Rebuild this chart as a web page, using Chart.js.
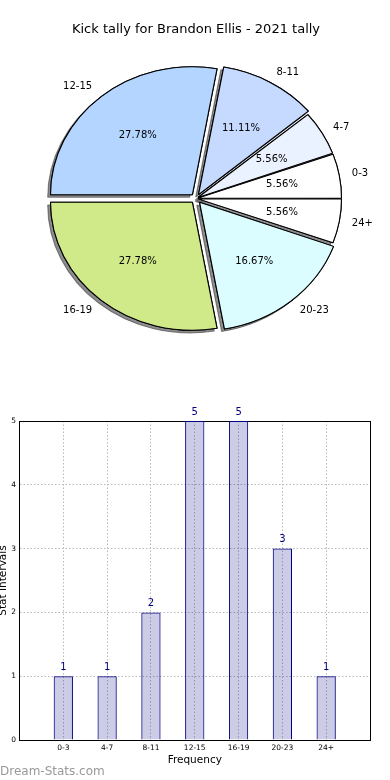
<!DOCTYPE html>
<html>
<head>
<meta charset="utf-8">
<script src="https://cdn.jsdelivr.net/npm/chart.js@4.4.1/dist/chart.umd.min.js"></script>
<style>
  html, body { margin: 0; padding: 0; background: #fff; }
  #wrap { position: relative; width: 390px; height: 780px; overflow: hidden; }
  canvas { position: absolute; left: 0; }
  #pie { top: 0; }
  #bars { top: 380px; }
</style>
</head>
<body>
<div id="wrap">
  <canvas id="pie" width="390" height="380"></canvas>
  <canvas id="bars" width="390" height="400"></canvas>
</div>
<script>
const chartTitle = 'Kick tally for Brandon Ellis - 2021 tally';
const intervals = ['0-3', '4-7', '8-11', '12-15', '16-19', '20-23', '24+'];
const kicks = [1, 1, 2, 5, 5, 3, 1];
const sliceColors = ['#ffffff', '#eaf1ff', '#c6d9ff', '#b3d5ff', '#d0ea8a', '#dbfdff', '#ffffff'];
const explode = [2, 2, 4.5, 5, 5, 5, 2];   // px each wedge is pulled out
const xTitle = 'Frequency';
const yTitle = 'Stat Intervals';
const watermark = 'Dream-Stats.com';

Chart.defaults.font.family = "'DejaVu Sans', sans-serif";
Chart.defaults.color = '#000';
Chart.defaults.animation = false;

// the original pie is a bit wider than tall
const SX = 1.109;

// chart.js goes clockwise, matplotlib counter-clockwise -> feed it reversed
const order = intervals.map((_, i) => intervals.length - 1 - i);

const pieLook = {
  id: 'pieLook',
  beforeDatasetDraw(chart, args) {
    const ctx = chart.ctx;
    const arcs = args.meta.data;
    const cx = arcs[0].x;
    ctx.save();
    ctx.translate(cx, 0);
    ctx.scale(SX, 1);
    ctx.translate(-cx, 0);
    // shadow pass, everything gets covered again except the shadow
    ctx.save();
    ctx.shadowColor = 'rgba(50,50,50,0.55)';
    ctx.shadowOffsetX = -2.8;
    ctx.shadowOffsetY = 2.6;
    arcs.forEach(a => a.draw(ctx));
    ctx.restore();
  },
  afterDatasetDraw(chart) {
    chart.ctx.restore();
  },
  afterDatasetsDraw(chart) {
    const ctx = chart.ctx;
    const meta = chart.getDatasetMeta(0);
    const vals = chart.data.datasets[0].data;
    const total = vals.reduce((s, v) => s + v, 0);
    ctx.save();
    ctx.font = "10px 'DejaVu Sans'";
    ctx.fillStyle = '#000';
    ctx.textBaseline = 'middle';
    meta.data.forEach((arc, i) => {
      const mid = (arc.startAngle + arc.endAngle) / 2;
      const d = (arc.options.offset || 0) / 4;
      const c = Math.cos(mid), s = Math.sin(mid);
      const at = k => [arc.x + SX * (d + k * arc.outerRadius) * c,
                       arc.y + (d + k * arc.outerRadius) * s];
      let p = at(1.1);
      ctx.textAlign = c >= 0 ? 'left' : 'right';
      ctx.fillText(chart.data.labels[i], p[0], p[1]);
      p = at(0.6);
      ctx.textAlign = 'center';
      ctx.fillText((vals[i] / total * 100).toFixed(2) + '%', p[0], p[1]);
    });
    ctx.restore();
  }
};

new Chart(document.getElementById('pie'), {
  type: 'pie',
  data: {
    labels: order.map(i => intervals[i]),
    datasets: [{
      data: order.map(i => kicks[i]),
      backgroundColor: order.map(i => sliceColors[i]),
      offset: order.map(i => explode[i] * 4),
      borderColor: '#000',
      borderWidth: 1,
      clip: false
    }]
  },
  options: {
    responsive: false,
    devicePixelRatio: 1,
    rotation: 90,
    radius: 127.9,
    layout: { padding: { left: 2, right: 0, top: 0, bottom: 30.8 } },
    plugins: {
      legend: { display: false },
      tooltip: { enabled: false },
      title: {
        display: true,
        text: chartTitle,
        color: '#000',
        font: { size: 13, weight: 'normal' },
        padding: { top: 22.2, bottom: 10 }
      }
    }
  },
  plugins: [pieLook]
});

const barExtras = {
  id: 'barExtras',
  afterDatasetsDraw(chart) {
    const ctx = chart.ctx;
    const meta = chart.getDatasetMeta(0);
    ctx.save();
    ctx.font = "10px 'DejaVu Sans'";
    ctx.fillStyle = '#000080';
    ctx.textAlign = 'center';
    ctx.textBaseline = 'middle';
    meta.data.forEach((bar, i) => {
      ctx.fillText(String(kicks[i]), bar.x, bar.y - 9);
    });
    ctx.fillStyle = '#999';
    ctx.font = "12px 'DejaVu Sans'";
    ctx.textAlign = 'left';
    ctx.fillText(watermark, 0, 392);
    ctx.restore();
  }
};

const dotted = { color: '#b8b8b8', lineWidth: 1, drawTicks: false };

new Chart(document.getElementById('bars'), {
  type: 'bar',
  data: {
    datasets: [{
      data: kicks.map((v, i) => ({ x: i, y: v })),
      backgroundColor: 'rgba(0,0,128,0.2)',
      borderColor: '#000080',
      borderWidth: 1,
      barPercentage: 0.44,
      categoryPercentage: 1
    }]
  },
  options: {
    responsive: false,
    devicePixelRatio: 1,
    layout: { padding: { left: 0, right: 20, top: 41, bottom: 13.7 } },
    plugins: { legend: { display: false }, tooltip: { enabled: false } },
    scales: {
      x: {
        type: 'linear', position: 'bottom', min: -1, max: 7, offset: false,
        grid: { ...dotted, offset: false },
        border: { color: '#000', width: 1, dash: [1.5, 2] },
        ticks: {
          stepSize: 1, autoSkip: false, maxRotation: 0, padding: 3.5,
          font: { size: 7.5 },
          callback: v => intervals[v] !== undefined ? intervals[v] : ''
        },
        title: { display: true, text: xTitle, font: { size: 10.5 }, padding: { top: 0, bottom: 0 } },
        afterFit: s => { s.height = 26.3; }
      },
      y: {
        type: 'linear', position: 'left', min: 0, max: 5,
        grid: dotted,
        border: { color: '#000', width: 1, dash: [1.5, 2] },
        ticks: { stepSize: 1, padding: 3.5, font: { size: 7.5 } },
        title: { display: true, text: yTitle, font: { size: 10.5 }, padding: { top: -2.8, bottom: 0 } },
        afterFit: s => { s.width = 19.5; }
      },
      x2: {
        type: 'linear', position: 'top', min: -1, max: 7,
        grid: { display: false, drawTicks: false },
        ticks: { display: false },
        border: { display: true, color: '#000', width: 1 },
        afterFit: s => { s.height = 0; }
      },
      y2: {
        type: 'linear', position: 'right', min: 0, max: 5,
        grid: { display: false, drawTicks: false },
        ticks: { display: false },
        border: { display: true, color: '#000', width: 1 },
        afterFit: s => { s.width = 0; }
      }
    }
  },
  plugins: [barExtras]
});
</script>
</body>
</html>
